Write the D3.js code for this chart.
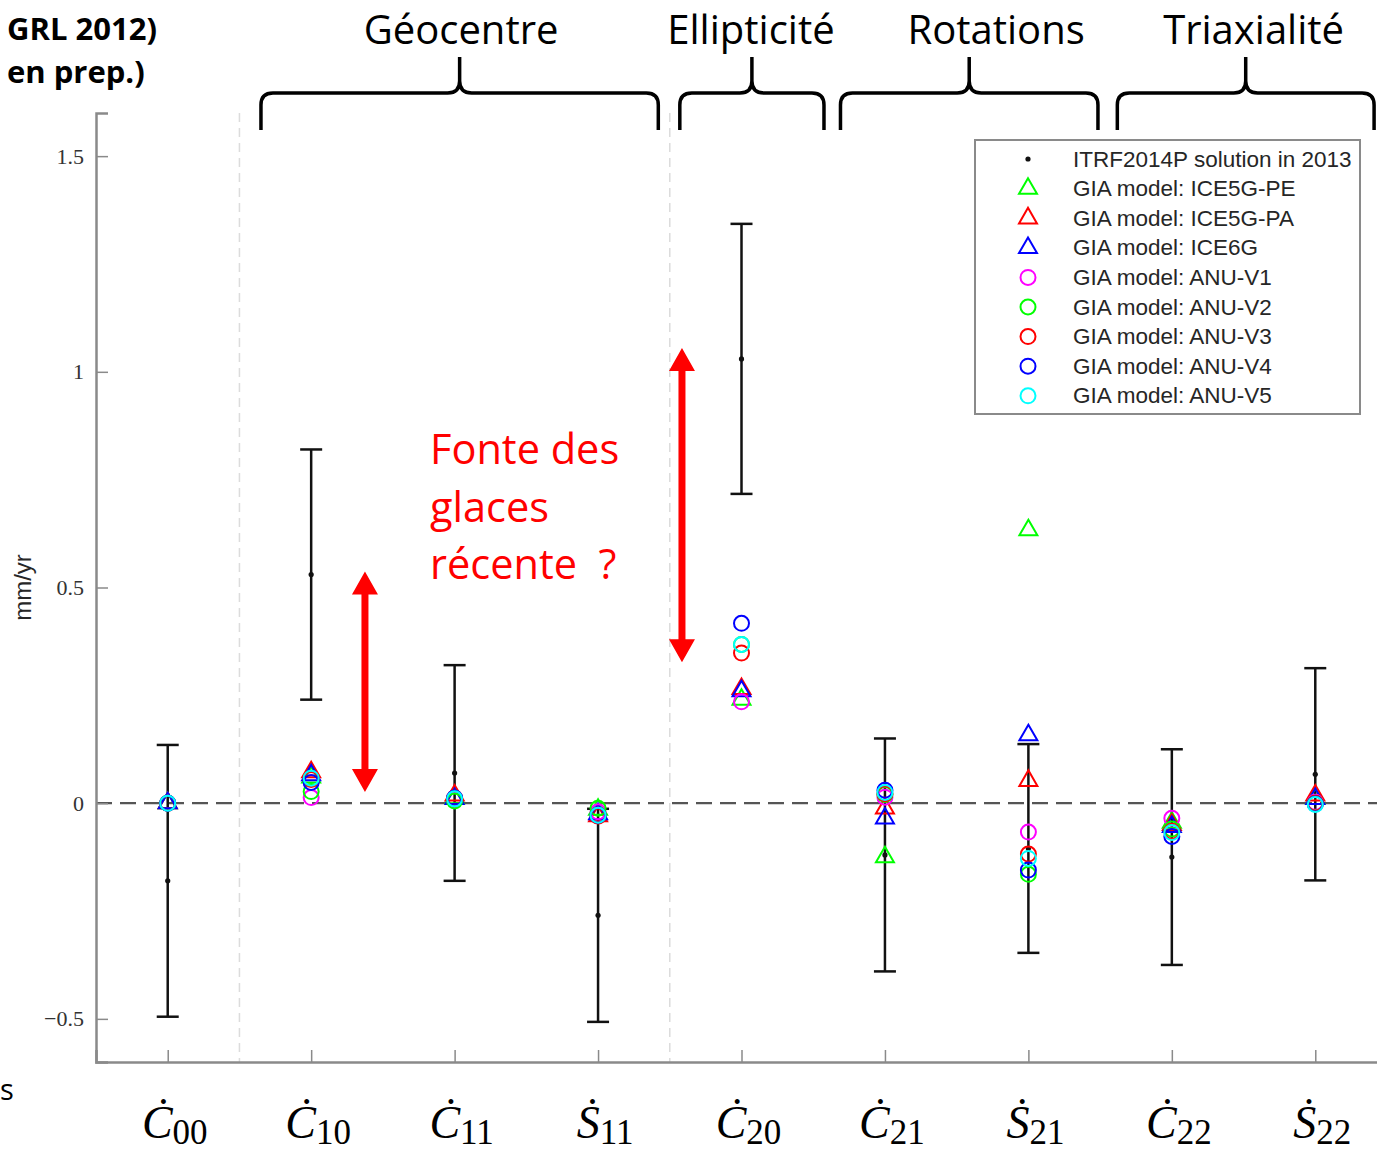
<!DOCTYPE html>
<html>
<head>
<meta charset="utf-8">
<script src="https://d3js.org/d3.v7.min.js"></script>
<style>
body { margin: 0; background: #fff; }
</style>
</head>
<body>
<script>
// coefficient rates (mm/yr)
var coefLetters = ["C", "C", "C", "S", "C", "C", "S", "C", "S"];
var coefSubs    = ["00", "10", "11", "11", "20", "21", "21", "22", "22"];

// ITRF2014P solution with error bars
var itrfValue = [-0.18, 0.53, 0.07, -0.26, 1.03, -0.12, -0.105, -0.125, 0.067];
var itrfError = [0.315, 0.29, 0.25, 0.247, 0.313, 0.27, 0.242, 0.25, 0.246];

// GIA models
var ice5gPE = [0, 0.06, 0.012, -0.015, 0.24, -0.125, 0.633, -0.045, 0.01];
var ice5gPA = [0, 0.072, 0.018, -0.03, 0.265, -0.012, 0.052, -0.05, 0.018];
var ice6g   = [0, 0.065, 0.01, -0.025, 0.26, -0.035, 0.158, -0.055, 0.01];
var anuV1   = [0, 0.013, 0.008, -0.02, 0.235, 0.014, -0.067, -0.035, 0.002];
var anuV2   = [0, 0.027, 0.005, -0.012, 0.368, 0.02, -0.165, -0.06, 0];
var anuV3   = [0, 0.055, 0.012, -0.03, 0.348, 0.022, -0.118, -0.065, 0];
var anuV4   = [0, 0.048, 0.012, -0.028, 0.417, 0.03, -0.155, -0.077, -0.002];
var anuV5   = [0, 0.058, 0.01, -0.028, 0.368, 0.025, -0.128, -0.068, -0.003];

var modelNames  = ["GIA model: ICE5G-PE", "GIA model: ICE5G-PA", "GIA model: ICE6G",
                   "GIA model: ANU-V1", "GIA model: ANU-V2", "GIA model: ANU-V3",
                   "GIA model: ANU-V4", "GIA model: ANU-V5"];
var modelValues = [ice5gPE, ice5gPA, ice6g, anuV1, anuV2, anuV3, anuV4, anuV5];
var modelColors = ["#00ff00", "#ff0000", "#0000ff", "#ff00ff", "#00ff00", "#ff0000", "#0000ff", "#00ffff"];
var modelShapes = ["tri", "tri", "tri", "circ", "circ", "circ", "circ", "circ"];

var yTicks = [-0.5, 0, 0.5, 1, 1.5];

// groups of coefficients shown with braces on top (in category units)
var groupNames = ["Géocentre", "Ellipticité", "Rotations", "Triaxialité"];
var groupStart = [1.65, 4.57, 5.69, 7.62];
var groupEnd   = [4.42, 5.575, 7.485, 9.41];
var groupLabel = [3.045, 5.066, 6.775, 8.57];

const W = 1377, H = 1152;

const svg = d3.select("body").append("svg")
  .attr("width", W).attr("height", H)
  .style("font-family", "'Liberation Sans', Arial, sans-serif");

// scales: categories 1..9, plot cropped on the right
const x = d3.scaleLinear().domain([0.5, 9.5]).range([96, 1387]);
const y = d3.scaleLinear().domain([-0.6, 1.6]).range([1062, 113]);

// group separators
[1.5, 4.5].forEach(function(v) {
  svg.append("line")
    .attr("x1", x(v)).attr("x2", x(v))
    .attr("y1", y(1.6)).attr("y2", y(-0.6))
    .attr("stroke", "#dcdcdc").attr("stroke-width", 1.5)
    .attr("stroke-dasharray", "9,6");
});

// zero line
svg.append("line")
  .attr("x1", x(0.5)).attr("x2", W)
  .attr("y1", y(0)).attr("y2", y(0))
  .attr("stroke", "#555").attr("stroke-width", 2.2)
  .attr("stroke-dasharray", "16,8");

// axes
const yAxis = d3.axisLeft(y).tickValues(yTicks).tickSize(-12).tickPadding(12)
  .tickFormat(function(d) { return d < 0 ? "\u2212" + Math.abs(d) : d; });
const gy = svg.append("g").attr("transform", "translate(" + x(0.5) + ",0)").call(yAxis);
gy.select(".domain").attr("stroke", "#8a8a8a").attr("stroke-width", 2.5);
gy.selectAll(".tick line").attr("stroke", "#8a8a8a").attr("stroke-width", 1.5);
gy.selectAll(".tick text")
  .style("font-family", "'Liberation Serif', 'DejaVu Serif', serif")
  .style("font-size", "22px").attr("fill", "#333");

const xAxis = d3.axisBottom(x).tickValues(d3.range(1, 10)).tickSize(-12).tickFormat("");
const gx = svg.append("g").attr("transform", "translate(0," + y(-0.6) + ")").call(xAxis);
gx.select(".domain").attr("stroke", "#8a8a8a").attr("stroke-width", 2.5);
gx.selectAll(".tick line").attr("stroke", "#8a8a8a").attr("stroke-width", 1.5);

// x labels: dotted C / S with subscript
const xl = svg.append("g");
coefLetters.forEach(function(l, i) {
  const t = xl.append("text")
    .attr("x", x(i + 1) + 7).attr("y", 1138)
    .attr("text-anchor", "middle")
    .style("font-family", "'Liberation Serif', 'DejaVu Serif', serif")
    .attr("fill", "#000");
  t.append("tspan").text(l === "C" ? "\u010A" : "\u1E60")
    .style("font-style", "italic").style("font-size", "46px");
  t.append("tspan").text(coefSubs[i]).attr("dy", 6)
    .style("font-size", "35px");
});

// y label
svg.append("text")
  .attr("transform", "translate(31," + y(0.5) + ") rotate(-90)")
  .attr("text-anchor", "middle")
  .style("font-size", "24px").attr("fill", "#262626")
  .text("mm/yr");

// ITRF error bars
const eb = svg.append("g").attr("stroke", "#111").attr("stroke-width", 2.5);
itrfValue.forEach(function(v, i) {
  const cx = x(i + 1), e = itrfError[i];
  eb.append("line").attr("x1", cx).attr("x2", cx).attr("y1", y(v + e)).attr("y2", y(v - e));
  eb.append("line").attr("x1", cx - 11).attr("x2", cx + 11).attr("y1", y(v + e)).attr("y2", y(v + e));
  eb.append("line").attr("x1", cx - 11).attr("x2", cx + 11).attr("y1", y(v - e)).attr("y2", y(v - e));
});
svg.append("g").selectAll("circle").data(itrfValue).enter().append("circle")
  .attr("cx", function(d, i) { return x(i + 1); })
  .attr("cy", function(d) { return y(d); })
  .attr("r", 2.6).attr("fill", "#111");

// model markers
const tri = d3.symbol().type(d3.symbolTriangle).size(140);
function marker(g, shape, color) {
  if (shape === "tri") {
    g.append("path").attr("d", tri()).attr("fill", "none")
      .attr("stroke", color).attr("stroke-width", 2);
  } else {
    g.append("circle").attr("r", 7.5).attr("fill", "none")
      .attr("stroke", color).attr("stroke-width", 2);
  }
}
modelValues.forEach(function(vals, m) {
  vals.forEach(function(v, i) {
    const g = svg.append("g").attr("transform", "translate(" + x(i + 1) + "," + y(v) + ")");
    marker(g, modelShapes[m], modelColors[m]);
  });
});

// legend
const lg = svg.append("g");
lg.append("rect").attr("x", 975).attr("y", 140).attr("width", 385).attr("height", 274)
  .attr("fill", "#fff").attr("stroke", "#8a8a8a").attr("stroke-width", 2);
const legNames = ["ITRF2014P solution in 2013"].concat(modelNames);
legNames.forEach(function(n, k) {
  const ly = 159 + k * 29.6;
  const g = lg.append("g").attr("transform", "translate(1028," + ly + ")");
  if (k === 0) g.append("circle").attr("r", 2.6).attr("fill", "#111");
  else marker(g, modelShapes[k - 1], modelColors[k - 1]);
  lg.append("text").attr("x", 1073).attr("y", ly + 7.5)
    .style("font-size", "22.5px").attr("fill", "#262626").text(n);
});

// double-headed red arrows
function arrow(cx, yTop, yBot) {
  const hw = 13, hl = 23, sw = 3.5;
  const p = d3.path();
  p.moveTo(cx, yTop); p.lineTo(cx + hw, yTop + hl); p.lineTo(cx + sw, yTop + hl);
  p.lineTo(cx + sw, yBot - hl); p.lineTo(cx + hw, yBot - hl); p.lineTo(cx, yBot);
  p.lineTo(cx - hw, yBot - hl); p.lineTo(cx - sw, yBot - hl); p.lineTo(cx - sw, yTop + hl);
  p.lineTo(cx - hw, yTop + hl); p.closePath();
  svg.append("path").attr("d", p.toString()).attr("fill", "#ff0000");
}
arrow(x(2.375), y(0.537), y(0.026));
arrow(x(4.585), y(1.055), y(0.327));

// annotation text
const note = ["Fonte des", "glaces", "récente  ?"];
note.forEach(function(s, k) {
  svg.append("text").attr("x", 430).attr("y", 464 + k * 57.5)
    .style("font-family", "'Open Sans', sans-serif").style("font-size", "41.5px")
    .attr("fill", "#ff0000").attr("xml:space", "preserve").text(s);
});

// braces and group headers
function brace(x0, x1) {
  const xm = (x0 + x1) / 2, yb = 130, yl = 93, yt = 57, r = 12;
  return "M" + x0 + "," + yb + " L" + x0 + "," + (yl + r) +
    " Q" + x0 + "," + yl + " " + (x0 + r) + "," + yl +
    " L" + (xm - r) + "," + yl + " Q" + xm + "," + yl + " " + xm + "," + (yl - r) +
    " L" + xm + "," + yt + " L" + xm + "," + (yl - r) +
    " Q" + xm + "," + yl + " " + (xm + r) + "," + yl +
    " L" + (x1 - r) + "," + yl + " Q" + x1 + "," + yl + " " + x1 + "," + (yl + r) +
    " L" + x1 + "," + yb;
}
groupNames.forEach(function(n, k) {
  svg.append("path").attr("d", brace(x(groupStart[k]), x(groupEnd[k])))
    .attr("fill", "none").attr("stroke", "#000").attr("stroke-width", 3.5);
  svg.append("text").attr("x", x(groupLabel[k])).attr("y", 44)
    .attr("text-anchor", "middle")
    .style("font-family", "'Open Sans', sans-serif").style("font-size", "40px")
    .attr("fill", "#000").text(n);
});

// leftover slide text
const side = ["GRL 2012)", "en prep.)"];
side.forEach(function(s, k) {
  svg.append("text").attr("x", 7).attr("y", 40 + k * 43)
    .style("font-family", "'Open Sans', sans-serif").style("font-size", "31px")
    .style("font-weight", "bold").attr("fill", "#000").text(s);
});
svg.append("text").attr("x", 0).attr("y", 1100)
  .style("font-family", "'Open Sans', sans-serif").style("font-size", "29px")
  .attr("fill", "#000").text("s");
</script>
</body>
</html>
